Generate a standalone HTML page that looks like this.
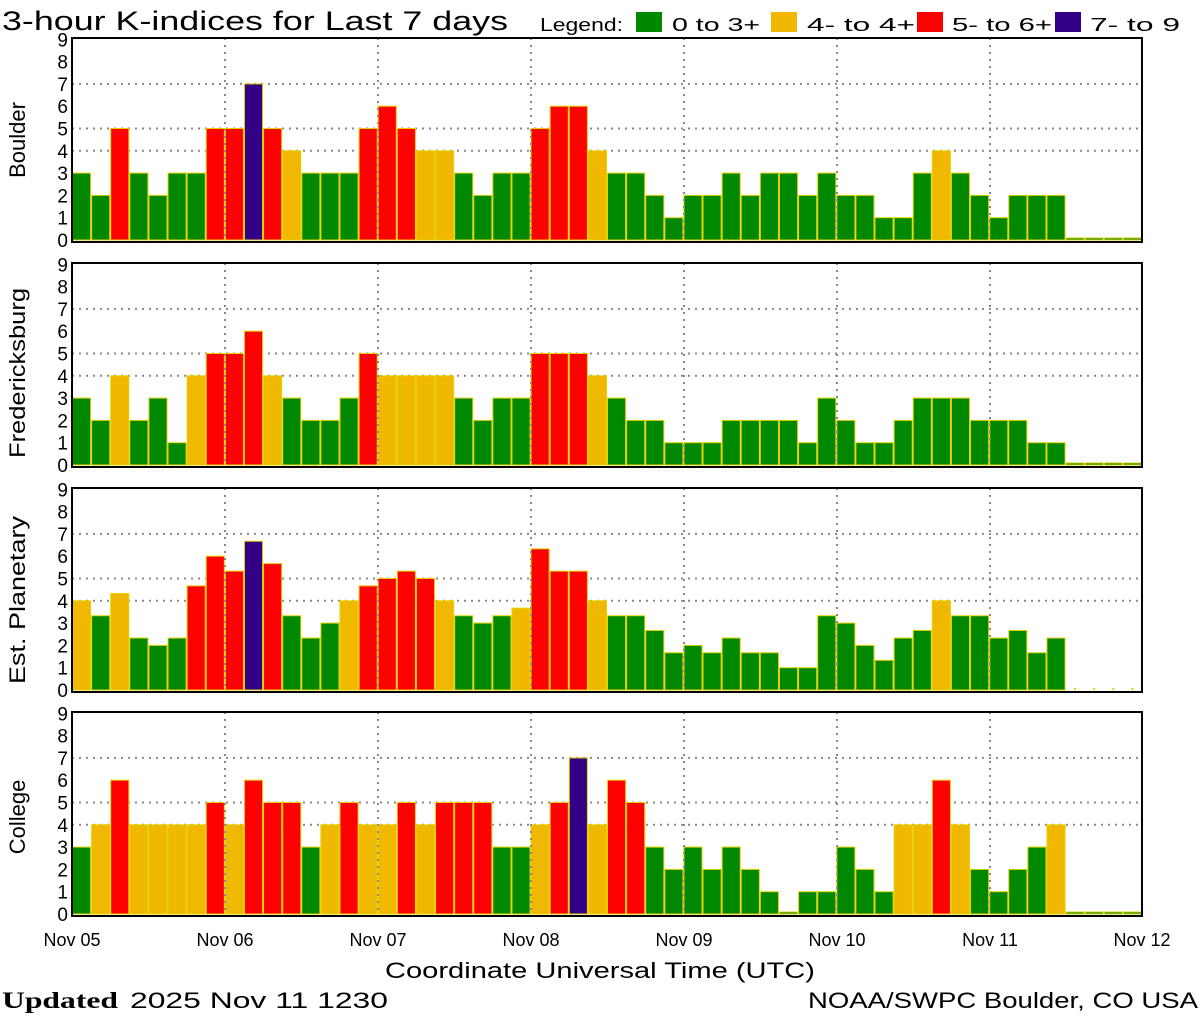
<!DOCTYPE html>
<html><head><meta charset="utf-8"><style>
html,body{margin:0;padding:0;background:#fff;}
svg{display:block;}
text{font-family:"Liberation Sans",sans-serif;fill:#000;}
</style></head><body>
<svg id="s" width="1200" height="1020" viewBox="0 0 1200 1020" xmlns="http://www.w3.org/2000/svg">
<rect width="1200" height="1020" fill="#fff"/>
<text x="2" y="30" font-size="27" textLength="506" lengthAdjust="spacingAndGlyphs">3-hour K-indices for Last 7 days</text>
<text x="540" y="31" font-size="18" textLength="83" lengthAdjust="spacingAndGlyphs">Legend:</text>
<rect x="636" y="12" width="26" height="20" fill="#008800"/>
<text x="672" y="31" font-size="18" textLength="88" lengthAdjust="spacingAndGlyphs">0 to 3+</text>
<rect x="771" y="12" width="26" height="20" fill="#f0b800"/>
<text x="807" y="31" font-size="18" textLength="108" lengthAdjust="spacingAndGlyphs">4- to 4+</text>
<rect x="917" y="12" width="26" height="20" fill="#ff0000"/>
<text x="952" y="31" font-size="18" textLength="100" lengthAdjust="spacingAndGlyphs">5- to 6+</text>
<rect x="1055" y="12" width="26" height="20" fill="#330088"/>
<text x="1090" y="31" font-size="18" textLength="90" lengthAdjust="spacingAndGlyphs">7- to 9</text>
<g id="panels"></g>
<text x="25" y="140" font-size="22" text-anchor="middle" transform="rotate(-90 25 140)">Boulder</text>
<text x="25" y="373" font-size="22" text-anchor="middle" transform="rotate(-90 25 373)" textLength="170" lengthAdjust="spacingAndGlyphs">Fredericksburg</text>
<text x="25" y="600" font-size="22" text-anchor="middle" transform="rotate(-90 25 600)" textLength="168" lengthAdjust="spacingAndGlyphs">Est. Planetary</text>
<text x="25" y="817" font-size="22" text-anchor="middle" transform="rotate(-90 25 817)">College</text>
<g font-size="18" text-anchor="middle">
<text x="72" y="946">Nov 05</text><text x="225" y="946">Nov 06</text><text x="378" y="946">Nov 07</text><text x="531" y="946">Nov 08</text><text x="684" y="946">Nov 09</text><text x="837" y="946">Nov 10</text><text x="990" y="946">Nov 11</text><text x="1142" y="946">Nov 12</text>
</g>
<text x="600" y="978" font-size="22" text-anchor="middle" textLength="430" lengthAdjust="spacingAndGlyphs">Coordinate Universal Time (UTC)</text>
<text x="2" y="1008" font-size="23" font-weight="bold" style="font-family:'Liberation Serif',serif" textLength="116" lengthAdjust="spacingAndGlyphs">Updated</text>
<text x="130" y="1008" font-size="22" textLength="258" lengthAdjust="spacingAndGlyphs">2025 Nov 11 1230</text>
<text x="1198" y="1008" font-size="22" text-anchor="end" textLength="390" lengthAdjust="spacingAndGlyphs">NOAA/SWPC Boulder, CO USA</text>
</svg>
<script>
var D=[];
D[0]=[3,2,5,3,2,3,3,5, 5,7,5,4,3,3,3,5, 6,5,4,4,3,2,3,3, 5,6,6,4,3,3,2,1, 2,2,3,2,3,3,2,3, 2,2,1,1,3,4,3,2, 1,2,2,2,-1,-1,-1,-1];
D[1]=[3,2,4,2,3,1,4,5, 5,6,4,3,2,2,3,5, 4,4,4,4,3,2,3,3, 5,5,5,4,3,2,2,1, 1,1,2,2,2,2,1,3, 2,1,1,2,3,3,3,2, 2,2,1,1,-1,-1,-1,-1];
D[2]=[4,3.33,4.33,2.33,2,2.33,4.67,6, 5.33,6.67,5.67,3.33,2.33,3,4,4.67, 5,5.33,5,4,3.33,3,3.33,3.67, 6.33,5.33,5.33,4,3.33,3.33,2.67,1.67, 2,1.67,2.33,1.67,1.67,1,1,3.33, 3,2,1.33,2.33,2.67,4,3.33,3.33, 2.33,2.67,1.67,2.33,-2,-2,-2,-2];
D[3]=[3,4,6,4,4,4,4,5, 4,6,5,5,3,4,5,4, 4,5,4,5,5,5,3,3, 4,5,7,4,6,5,3,2, 3,2,3,2,1,0,1,1, 3,2,1,4,4,6,4,2, 1,2,3,4,-1,-1,-1,-1];
var tops=[38,263,488,712],X0=72,X1=1142,bw=(X1-X0)/56,U=22.3,H=204;
var ns="http://www.w3.org/2000/svg",g=document.getElementById('panels');
function el(n,a){var e=document.createElementNS(ns,n);for(var k in a)e.setAttribute(k,a[k]);g.appendChild(e);return e;}
function col(v){return v>=6.67?'#330088':v>=4.67?'#ff0000':v>=3.67?'#f0b800':'#008800';}
for(var p=0;p<4;p++){
 var T=tops[p],Z=T+202;
 [4,5,7].forEach(function(l){el('line',{x1:X0,x2:X1,y1:Z-l*U,y2:Z-l*U,stroke:'#888','stroke-width':2,'stroke-dasharray':'2 5'});});
 for(var i=0;i<56;i++){var v=D[p][i];var x=X0+i*bw;
  if(v<0){ if(v==-1) el('rect',{x:x+0.5,y:Z-2,width:bw-1,height:2,fill:'#008800',stroke:'#e6d200','stroke-width':1});
   else el('rect',{x:x+bw/2-1,y:Z-2,width:2,height:2,fill:'#e6d200'}); continue;}
  var h=Math.max(v*U,2);
  el('rect',{x:x+0.5,y:Z-h,width:bw-1,height:h,fill:col(v),stroke:'#e6d200','stroke-width':1});
 }
 for(var d=1;d<7;d++){var gx=X0+d*153;el('line',{x1:gx,x2:gx,y1:T,y2:Z,stroke:'#888','stroke-width':2,'stroke-dasharray':'2 5'});}
 el('rect',{x:X0,y:T,width:X1-X0,height:H,fill:'none',stroke:'#000','stroke-width':2});
 for(var k=0;k<=9;k++){var t=el('text',{x:68,y:Z-k*U+7,'font-size':19,'text-anchor':'end'});t.textContent=k;}
}
</script>
</body></html>
